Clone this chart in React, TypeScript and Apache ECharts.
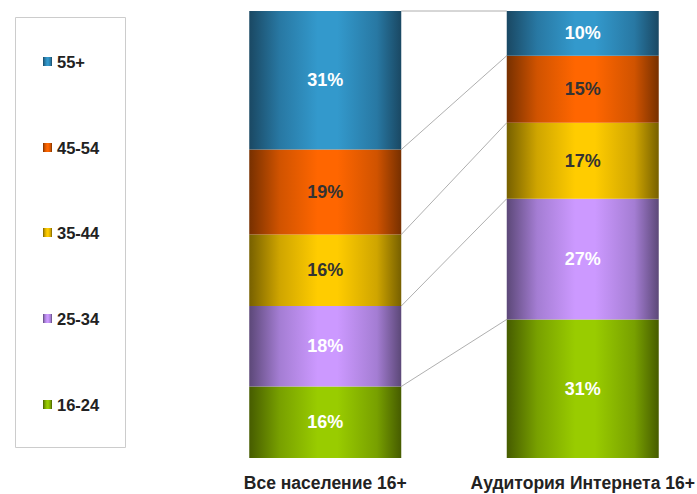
import React, { useEffect, useRef } from "react";
import * as echarts from "echarts";

const categories = ["Все население 16+", "Аудитория Интернета 16+"];
const ageGroups = ["16-24", "25-34", "35-44", "45-54", "55+"];
const share1624 = [16, 31];
const share2534 = [18, 27];
const share3544 = [16, 17];
const share4554 = [19, 15];
const share55 = [31, 10];

const seriesValues = [share1624, share2534, share3544, share4554, share55];
const centerColors = ["#99cc00", "#cc99ff", "#ffcc00", "#ff6600", "#3399cc"];
const edgeColors = ["#465c00", "#5c4878", "#776000", "#773000", "#1a4863"];
const midColors = ["#78a000", "#a47dd3", "#cfa500", "#d05300", "#2878a3"];
const labelColors = ["#ffffff", "#ffffff", "#333333", "#333333", "#ffffff"];

const FONT = "Arial, 'Liberation Sans', sans-serif";
const BAR_W = 152;

function grad(i: number) {
  return new echarts.graphic.LinearGradient(0, 0, 1, 0, [
    { offset: 0, color: edgeColors[i] },
    { offset: 0.2, color: midColors[i] },
    { offset: 0.45, color: centerColors[i] },
    { offset: 0.58, color: centerColors[i] },
    { offset: 0.84, color: midColors[i] },
    { offset: 1, color: edgeColors[i] },
  ]);
}

export default function App() {
  const ref = useRef<HTMLDivElement>(null);
  useEffect(() => {
    if (!ref.current) return;
    document.body.style.margin = "0";
    const chart = echarts.init(ref.current, undefined, { renderer: "svg" });

    const bounds: number[][] = [];
    const acc = [0, 0];
    seriesValues.forEach((vals) => {
      acc[0] += vals[0];
      acc[1] += vals[1];
      bounds.push([0, acc[0], acc[1]]);
    });

    const legendCenters = [404, 318, 232, 147, 61];

    const barSeries = ageGroups.map((name, i) => ({
      name,
      type: "bar",
      stack: "total",
      barWidth: BAR_W,
      data: seriesValues[i],
      itemStyle: { color: grad(i) },
      z: 3,
      label: {
        show: true,
        position: "inside",
        formatter: "{c}%",
        color: labelColors[i],
        fontSize: 18,
        fontWeight: "bold",
        fontFamily: FONT,
      },
    }));

    chart.setOption({
      animation: false,
      backgroundColor: "#ffffff",
      grid: {
        left: 196.5,
        width: 515,
        top: 11,
        bottom: 36,
        outerBoundsMode: "none",
        containLabel: false,
      },
      xAxis: {
        type: "category",
        data: categories,
        axisLine: { show: false },
        axisTick: { show: false },
        axisLabel: {
          margin: 16,
          color: "#222222",
          fontSize: 17.5,
          fontWeight: "bold",
          fontFamily: FONT,
          interval: 0,
        },
      },
      yAxis: {
        type: "value",
        min: 0,
        max: 100,
        show: false,
        splitLine: { show: false },
      },
      legend: ageGroups.map((name, i) => ({
        data: [name],
        orient: "vertical",
        left: 43,
        top: legendCenters[i] - 8,
        padding: 0,
        itemWidth: 9,
        itemHeight: 9,
        icon: "rect",
        selectedMode: false,
        textStyle: {
          color: "#222222",
          fontSize: 16.5,
          fontWeight: "bold",
          fontFamily: FONT,
        },
      })),
      graphic: [
        {
          type: "rect",
          z: -1,
          shape: { x: 15.5, y: 17.5, width: 110, height: 430 },
          style: { fill: "#ffffff", stroke: "#cccccc", lineWidth: 1 },
        },
      ],
      series: [
        ...barSeries,
        {
          type: "custom",
          name: "connectors",
          silent: true,
          z: 1,
          encode: { x: 0, y: 1 },
          data: bounds,
          renderItem: (_params: any, api: any) => {
            const p0 = api.coord([0, api.value(1)]);
            const p1 = api.coord([1, api.value(2)]);
            return {
              type: "line",
              shape: {
                x1: p0[0] + BAR_W / 2,
                y1: p0[1],
                x2: p1[0] - BAR_W / 2,
                y2: p1[1],
              },
              style: { stroke: "#9a9a9a", lineWidth: 0.8 },
            };
          },
        },
      ],
    });
    return () => chart.dispose();
  }, []);
  return (
    <div
      ref={ref}
      style={{ position: "absolute", left: 0, top: 0, width: 697, height: 494 }}
    />
  );
}
